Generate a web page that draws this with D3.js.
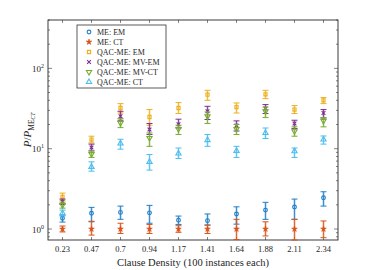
<!DOCTYPE html>
<html>
<head>
<meta charset="utf-8">
<script src="https://cdn.jsdelivr.net/npm/d3@7"></script>
<style>
  body { margin: 0; background: #fff; }
  svg { display: block; font-family: "Liberation Serif", "DejaVu Serif", serif; }
</style>
</head>
<body>
<div class="chart"></div>
<script>
'use strict';

// Clause densities (x categories)
const densities = ["0.23", "0.47", "0.7", "0.94", "1.17", "1.41", "1.64", "1.88", "2.11", "2.34"];

// ME: EM
const meEm   = [1.36, 1.57, 1.61, 1.59, 1.29, 1.27, 1.54, 1.72, 1.88, 2.45];
const meEmLo = [1.22, 1.23, 1.32, 1.18, 1.14, 1.12, 1.15, 1.32, 1.32, 1.93];
const meEmHi = [1.49, 1.86, 1.93, 1.97, 1.45, 1.54, 1.89, 2.15, 2.36, 2.91];

// ME: CT
const meCt   = [1, 1, 1, 1, 1, 1, 1, 1, 1, 1];
const meCtLo = [0.92, 0.84, 0.88, 0.88, 0.91, 0.88, 0.74, 0.82, 0.73, 0.78];
const meCtHi = [1.09, 1.25, 1.18, 1.14, 1.10, 1.12, 1.32, 1.23, 1.32, 1.26];

// QAC-ME: EM
const qEm   = [2.52, 13.0, 32.1, 24.8, 32.1, 47.1, 33.0, 47.5, 30.7, 40.0];
const qEmLo = [2.29, 11.8, 27.8, 19.6, 27.4, 40.0, 27.8, 42.0, 27.4, 36.4];
const qEmHi = [2.80, 14.3, 36.4, 30.7, 37.5, 53.3, 37.1, 53.3, 34.4, 43.3];

// QAC-ME: MV-EM
const qMvEm   = [2.18, 10.35, 25.3, 17.3, 20.2, 29.2, 19.4, 31.6, 20.6, 27.8];
const qMvEmLo = [2.02, 9.39, 22.6, 15.0, 18.1, 23.1, 16.6, 27.4, 17.8, 24.1];
const qMvEmHi = [2.36, 11.4, 29.2, 20.6, 23.3, 33.7, 22.2, 35.4, 22.6, 30.7];

// QAC-ME: MV-CT
const qMvCt   = [1.99, 8.55, 20.9, 13.6, 17.6, 25.3, 17.6, 29.2, 16.5, 22.2];
const qMvCtLo = [1.82, 7.78, 18.3, 10.7, 15.0, 20.6, 15.0, 24.4, 14.3, 18.7];
const qMvCtHi = [2.16, 9.39, 23.7, 15.7, 19.6, 28.7, 20.0, 33.0, 18.7, 24.4];

// QAC-ME: CT
const qCt   = [1.58, 5.94, 11.6, 6.86, 8.71, 12.8, 9.39, 15.7, 9.31, 13.0];
const qCtLo = [1.45, 5.25, 9.86, 5.41, 7.55, 10.7, 7.78, 13.4, 7.78, 11.4];
const qCtHi = [1.72, 6.86, 13.1, 8.47, 10.2, 15.0, 10.7, 18.1, 10.2, 14.4];

const yTicks = [1, 10, 100];

const series = [
  {name: "ME: EM",         v: meEm,   lo: meEmLo,   hi: meEmHi,   color: "#1f7fc8", shape: "circle"},
  {name: "ME: CT",         v: meCt,   lo: meCtLo,   hi: meCtHi,   color: "#d95319", shape: "star"},
  {name: "QAC-ME: EM",     v: qEm,    lo: qEmLo,    hi: qEmHi,    color: "#edb120", shape: "square"},
  {name: "QAC-ME: MV-EM",  v: qMvEm,  lo: qMvEmLo,  hi: qMvEmHi,  color: "#7e2f8e", shape: "times"},
  {name: "QAC-ME: MV-CT",  v: qMvCt,  lo: qMvCtLo,  hi: qMvCtHi,  color: "#77ac30", shape: "down"},
  {name: "QAC-ME: CT",     v: qCt,    lo: qCtLo,    hi: qCtHi,    color: "#4dbeee", shape: "up"}
];

const W = 374, H = 270;
const plot = {left: 48, right: 338, top: 20, bottom: 240};

const svg = d3.select(".chart")
  .append("svg")
  .attr("width", W)
  .attr("height", H);

const x = d3.scalePoint().domain(densities).range([plot.left, plot.right]).padding(0.5);
const y = d3.scaleLog().domain([0.73, 400]).range([plot.bottom, plot.top]);

// marker paths
function markerPath(shape) {
  switch (shape) {
    case "circle": return d3.symbol(d3.symbolCircle, 11)();
    case "star":   return d3.symbol(d3.symbolStar, 10)();
    case "square": return d3.symbol(d3.symbolSquare, 10)();
    case "times":  return d3.symbol(d3.symbolTimes, 11)();
    case "down":
    case "up":     return d3.symbol(d3.symbolTriangle, 12)();
  }
}
function drawMarker(g, s) {
  const p = g.append("path").attr("d", markerPath(s.shape));
  if (s.shape === "star") {
    p.attr("fill", s.color).attr("stroke", s.color).attr("stroke-width", 0.6);
  } else {
    p.attr("fill", "none").attr("stroke", s.color).attr("stroke-width", 1.1);
  }
  if (s.shape === "down") p.attr("transform", "rotate(180)");
  return p;
}

// ticks: y major/minor inward on both sides
const minor = [];
[0.1, 1, 10, 100].forEach(d => { for (let k = 2; k <= 9; k++) { const v = d * k; if (v >= 0.73 && v <= 400) minor.push(v); } });

const ticks = svg.append("g").attr("stroke", "#333").attr("stroke-width", 0.6);
yTicks.forEach(v => {
  ticks.append("line").attr("x1", plot.left).attr("x2", plot.left + 4).attr("y1", y(v)).attr("y2", y(v));
  ticks.append("line").attr("x1", plot.right).attr("x2", plot.right - 4).attr("y1", y(v)).attr("y2", y(v));
});
minor.forEach(v => {
  ticks.append("line").attr("x1", plot.left).attr("x2", plot.left + 2).attr("y1", y(v)).attr("y2", y(v));
  ticks.append("line").attr("x1", plot.right).attr("x2", plot.right - 2).attr("y1", y(v)).attr("y2", y(v));
});
densities.forEach(d => {
  ticks.append("line").attr("x1", x(d)).attr("x2", x(d)).attr("y1", plot.bottom).attr("y2", plot.bottom - 3);
  ticks.append("line").attr("x1", x(d)).attr("x2", x(d)).attr("y1", plot.top).attr("y2", plot.top + 3);
});

// frame
svg.append("rect")
  .attr("x", plot.left).attr("y", plot.top)
  .attr("width", plot.right - plot.left).attr("height", plot.bottom - plot.top)
  .attr("fill", "none").attr("stroke", "#262626").attr("stroke-width", 0.9);

// y tick labels 10^k
yTicks.forEach((v, i) => {
  const t = svg.append("text")
    .attr("x", 44).attr("y", y(v) + 3.5)
    .attr("text-anchor", "end")
    .attr("font-size", 9)
    .attr("fill", "#262626");
  t.append("tspan").text("10");
  t.append("tspan").attr("font-size", 6).attr("dy", -4).text(String(i));
});

// x tick labels
densities.forEach(d => {
  svg.append("text")
    .attr("x", x(d)).attr("y", 252)
    .attr("text-anchor", "middle")
    .attr("font-size", 8.5)
    .attr("fill", "#262626")
    .text(d);
});

// axis titles
svg.append("text")
  .attr("x", (plot.left + plot.right) / 2).attr("y", 266)
  .attr("text-anchor", "middle")
  .attr("font-size", 10.5)
  .attr("fill", "#262626")
  .text("Clause Density (100 instances each)");

const yl = svg.append("text")
  .attr("transform", "translate(31,130) rotate(-90)")
  .attr("text-anchor", "middle")
  .attr("font-size", 11)
  .attr("fill", "#262626");
yl.append("tspan").attr("font-style", "italic").text("P");
yl.append("tspan").text("/");
yl.append("tspan").attr("font-style", "italic").text("P");
yl.append("tspan").attr("font-size", 7.5).attr("dy", 2.5).text("ME");
yl.append("tspan").attr("font-size", 5.5).attr("font-style", "italic").attr("dy", 1.5).text("CT");

// error bars and markers
const capW = 3;
series.forEach(s => {
  const g = svg.append("g");
  densities.forEach((d, i) => {
    const cx = x(d);
    const eb = g.append("g").attr("stroke", s.color);
    eb.append("line")
      .attr("x1", cx).attr("x2", cx).attr("y1", y(s.lo[i])).attr("y2", y(s.hi[i]))
      .attr("stroke-width", 2.2).attr("stroke-opacity", 0.35);
    eb.append("line")
      .attr("x1", cx).attr("x2", cx).attr("y1", y(s.lo[i])).attr("y2", y(s.hi[i]))
      .attr("stroke-width", 0.8);
    [s.lo[i], s.hi[i]].forEach(v => {
      eb.append("line")
        .attr("x1", cx - capW).attr("x2", cx + capW).attr("y1", y(v)).attr("y2", y(v))
        .attr("stroke-width", 1);
    });
    const m = g.append("g").attr("transform", `translate(${cx},${y(s.v[i])})`);
    drawMarker(m, s);
  });
});

// legend
const lg = svg.append("g").attr("transform", "translate(77,25)");
lg.append("rect")
  .attr("width", 89).attr("height", 63)
  .attr("fill", "#fff").attr("stroke", "#333").attr("stroke-width", 0.8);
series.forEach((s, i) => {
  const row = lg.append("g").attr("transform", `translate(0,${7 + i * 10})`);
  const m = row.append("g").attr("transform", "translate(12,0)");
  drawMarker(m, s);
  row.append("text")
    .attr("x", 20).attr("y", 3)
    .attr("font-size", 8)
    .attr("fill", "#262626")
    .text(s.name);
});
</script>
</body>
</html>
